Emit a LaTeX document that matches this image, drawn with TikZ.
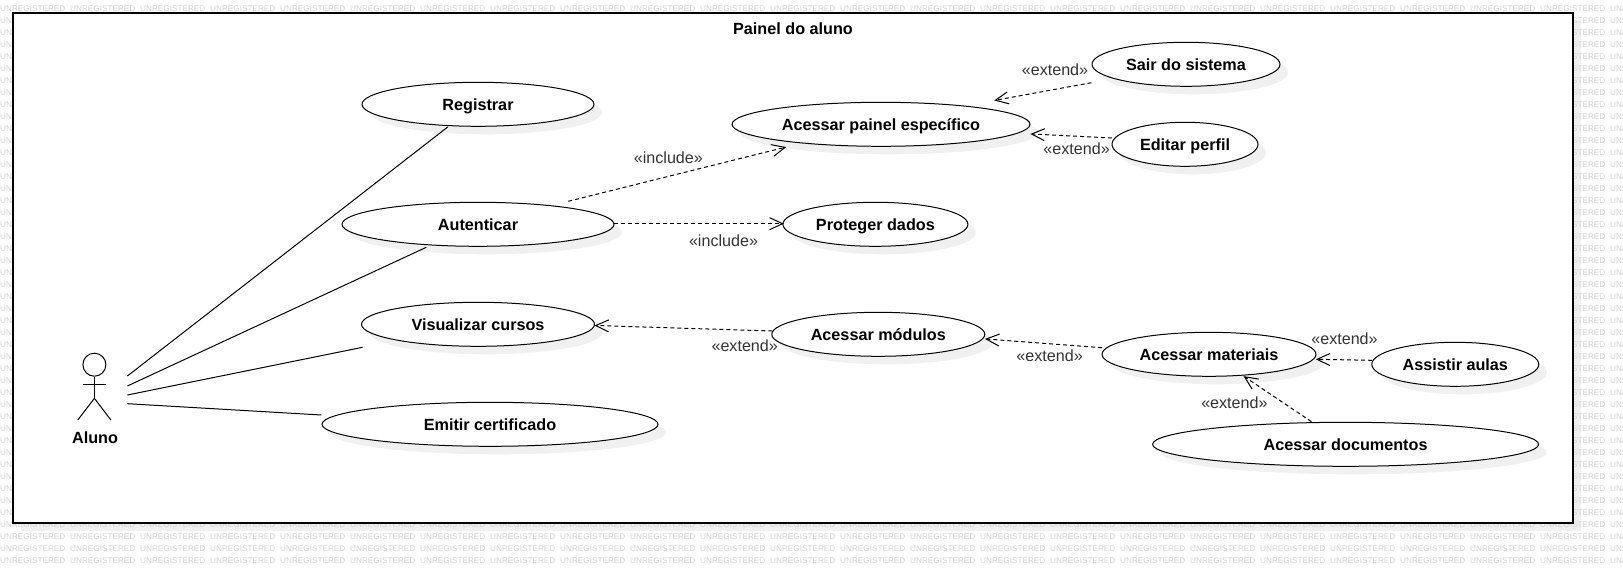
\documentclass[tikz,border=0pt]{standalone}
\usepackage{fontspec}
\setmainfont{Liberation Sans}
\usetikzlibrary{arrows.meta,shapes.geometric,shadows}
\definecolor{shadowgray}{HTML}{F0F0F0}
\definecolor{wmgray}{HTML}{D2D2D2}
\definecolor{labelgray}{HTML}{333333}
\tikzset{
  x=1pt,y=-1pt,
  usecase/.style={ellipse,draw=black,line width=1pt,fill=white,inner sep=0pt,
    font=\fontsize{16.2}{18}\selectfont\bfseries,text=black,text height=12pt,text depth=0pt,
    general shadow={shadow xshift=8pt,shadow yshift=-8pt,fill=shadowgray,draw=none}},
  stereotype/.style={font=\fontsize{16.1}{18}\selectfont,text=labelgray,inner sep=0pt,text height=12pt,text depth=0pt},
  boldtext/.style={font=\fontsize{16.2}{18}\selectfont\bfseries,text=black,inner sep=0pt,text height=12pt,text depth=0pt},
  assoc/.style={line width=1pt,draw=black},
  depend/.style={line width=1pt,draw=black,dash pattern=on 4pt off 3pt,shorten >=-1pt,
    -{Straight Barb[length=13pt,width=12pt,line width=1pt]}},
  actorline/.style={line width=1pt,draw=black},
  wm/.style={font=\fontsize{8.2}{9}\selectfont,text=wmgray,inner sep=0pt,anchor=west},
}
\begin{document}
\begin{tikzpicture}
\useasboundingbox (0,0) rectangle (1623,572);
\fill[white] (0,0) rectangle (1623,572);
% frame shadow, watermark, frame
\fill[shadowgray] (21,21) rectangle (1581,531);
\begin{scope}
\clip (0,0) rectangle (1623,572);
\foreach \wmrow in {0,...,46}{
  \foreach \wmcol in {0,...,23}{
    \node[wm,name=wm\wmrow-\wmcol] at ({\wmcol*70},{9+\wmrow*12}) {UNREGISTERED};
  }
}
\end{scope}
\node[draw=black,line width=1.3pt,fill=white,anchor=north west,inner sep=0pt,
  minimum width=1560pt,minimum height=510pt] (frame) at (12.3,12.3) {};
\node[boldtext] (title) at (793,28.3) {Painel do aluno};
% use cases
\node[usecase,minimum width=386pt,minimum height=44pt] (documentos) at (1345.6,444.3) {Acessar documentos};
\node[usecase,minimum width=232pt,minimum height=44pt] (registrar) at (478,104.3) {Registrar};
\node[usecase,minimum width=272pt,minimum height=44pt] (autenticar) at (478,224.3) {Autenticar};
\node[usecase,minimum width=233pt,minimum height=44pt] (visualizar) at (478,324.3) {Visualizar cursos};
\node[usecase,minimum width=336pt,minimum height=44pt] (emitir) at (490,424.3) {Emitir certificado};
\node[usecase,minimum width=298pt,minimum height=44pt] (painel) at (881,124.3) {Acessar painel específico};
\node[usecase,minimum width=185pt,minimum height=44pt] (proteger) at (875.4,224.3) {Proteger dados};
\node[usecase,minimum width=188pt,minimum height=44pt] (sair) at (1186,64.3) {Sair do sistema};
\node[usecase,minimum width=146pt,minimum height=44pt] (editar) at (1185,144.3) {Editar perfil};
\node[usecase,minimum width=213pt,minimum height=44pt] (modulos) at (878.3,334.3) {Acessar módulos};
\node[usecase,minimum width=214pt,minimum height=44pt] (materiais) at (1209,354.3) {Acessar materiais};
\node[usecase,minimum width=167pt,minimum height=44pt] (aulas) at (1455.3,364.3) {Assistir aulas};
% actor
\node[circle,draw=black,line width=1pt,minimum size=23pt,inner sep=0pt] (head) at (94.4,364.7) {};
\coordinate (hip) at (94.4,398.3);
\coordinate (armL) at (83,384);
\coordinate (armR) at (106,384);
\coordinate (legL) at (77.8,420);
\coordinate (legR) at (110.9,420);
\draw[actorline] (head.south) -- (hip);
\draw[actorline] (armL) -- (armR);
\draw[actorline] (legL) -- (hip) -- (legR);
\node[boldtext] (aluno) at (95,437.3) {Aluno};
% associations
\coordinate (a1) at (127.4,376);
\coordinate (a2) at (127.4,386);
\coordinate (a3) at (127.4,395);
\coordinate (a4) at (127.4,403.7);
\coordinate (u1) at (447.7,127);
\coordinate (u2) at (426.3,247.3);
\coordinate (u3) at (362.6,347.3);
\coordinate (u4) at (321.3,415);
\draw[assoc] (a1) -- (u1);
\draw[assoc] (a2) -- (u2);
\draw[assoc] (a3) -- (u3);
\draw[assoc] (a4) -- (u4);
% dependencies
\coordinate (d1s) at (568.2,201.3);
\coordinate (d1e) at (785.2,147.3);
\draw[depend] (d1s) -- (d1e);
\node[stereotype] (l1) at (668.4,157.8) {«include»};
\coordinate (d2s) at (614,223.7);
\coordinate (d2e) at (782.8,223.7);
\draw[depend] (d2s) -- (d2e);
\node[stereotype] (l2) at (723.5,240.3) {«include»};
\coordinate (d3s) at (1091.4,82.7);
\coordinate (d3e) at (995.2,100.3);
\draw[depend] (d3s) -- (d3e);
\node[stereotype] (l3) at (1055,69.3) {«extend»};
\coordinate (d4s) at (1112,138);
\coordinate (d4e) at (1031.4,134);
\draw[depend] (d4s) -- (d4e);
\node[stereotype] (l4) at (1076.6,148.3) {«extend»};
\coordinate (d5s) at (772.3,331);
\coordinate (d5e) at (595.5,325.5);
\draw[depend] (d5s) -- (d5e);
\node[stereotype] (l5) at (744.7,345) {«extend»};
\coordinate (d6s) at (1102,347.7);
\coordinate (d6e) at (986,339);
\draw[depend] (d6s) -- (d6e);
\node[stereotype] (l6) at (1049.6,355) {«extend»};
\coordinate (d7s) at (1372,360.3);
\coordinate (d7e) at (1316.8,359.3);
\draw[depend] (d7s) -- (d7e);
\node[stereotype] (l7) at (1344.5,338.3) {«extend»};
\coordinate (d8s) at (1311.5,421.7);
\coordinate (d8e) at (1244.4,376.7);
\draw[depend] (d8s) -- (d8e);
\node[stereotype] (l8) at (1234.4,402.3) {«extend»};
\end{tikzpicture}
\end{document}
